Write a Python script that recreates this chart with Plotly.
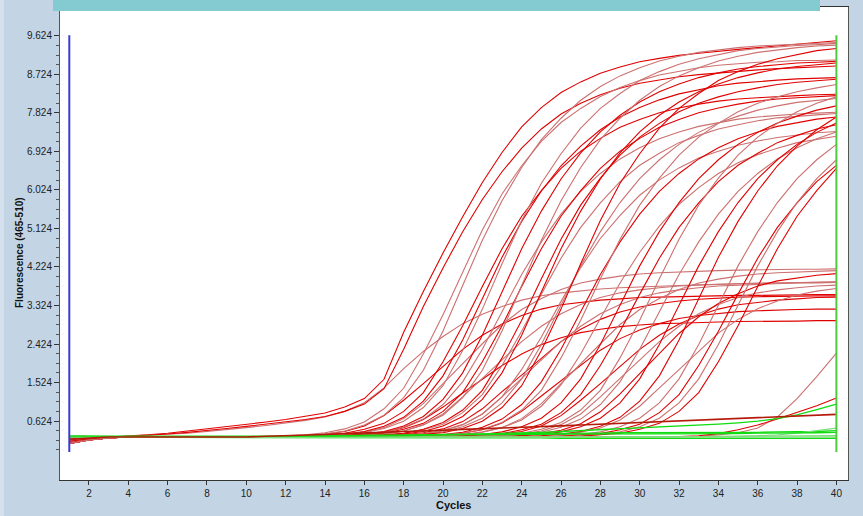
import plotly.graph_objects as go

# ---------------- data ----------------
cycles = list(range(1, 41))

y_tick_values = [0.624, 1.524, 2.424, 3.324, 4.224, 5.124, 6.024, 6.924, 7.824, 8.724, 9.624]
y_tick_labels = ["0.624", "1.524", "2.424", "3.324", "4.224", "5.124", "6.024", "6.924", "7.824", "8.724", "9.624"]
x_tick_values = [2, 4, 6, 8, 10, 12, 14, 16, 18, 20, 22, 24, 26, 28, 30, 32, 34, 36, 38, 40]
x_tick_labels = ["2", "4", "6", "8", "10", "12", "14", "16", "18", "20", "22", "24", "26", "28", "30", "32", "34", "36", "38", "40"]

# cycle markers (start / end of analysis window) and their fluorescence span
marker_cycles = [1, 40]
marker_span = [-0.1, 9.64]

# high-plateau red curves
h01 = [0.12,0.20,0.25,0.27,0.30,0.34,0.39,0.44,0.50,0.55, 0.60,0.66,0.73,0.81,0.95,1.15,1.60,2.70,3.65,4.55,
       5.40,6.20,6.90,7.50,7.95,8.30,8.55,8.75,8.90,9.02, 9.10,9.17,9.22,9.27,9.31,9.35,9.39,9.43,9.47,9.51]
h02 = [0.18,0.22,0.25,0.27,0.29,0.32,0.36,0.40,0.45,0.50, 0.55,0.60,0.66,0.73,0.85,1.02,1.38,2.30,3.30,4.20,
       5.05,5.80,6.45,7.00,7.45,7.80,8.05,8.25,8.40,8.52, 8.60,8.67,8.72,8.76,8.80,8.83,8.86,8.88,8.90,8.92]
h03 = [0.15,0.21,0.24,0.25,0.25,0.25,0.25,0.25,0.25,0.25, 0.25,0.28,0.30,0.35,0.44,0.60,0.91,1.39,2.19,3.11,
       4.12,5.09,5.93,6.59,7.16,7.60,7.93,8.21,8.42,8.58, 8.71,8.80,8.88,8.94,8.97,9.01,9.02,9.05,9.05,9.06]
h04 = [0.27,0.26,0.25,0.25,0.25,0.25,0.25,0.25,0.25,0.25, 0.25,0.25,0.29,0.32,0.39,0.53,0.76,1.17,1.81,2.73,
       3.79,4.85,5.77,6.55,7.20,7.70,8.12,8.44,8.69,8.88, 9.04,9.15,9.24,9.30,9.35,9.39,9.41,9.43,9.45,9.47]
h05 = [0.10,0.18,0.23,0.25,0.25,0.25,0.25,0.25,0.25,0.25, 0.25,0.25,0.27,0.30,0.34,0.43,0.57,0.85,1.29,2.01,
       2.85,3.77,4.65,5.41,6.01,6.53,6.93,7.23,7.49,7.67, 7.83,7.94,8.03,8.10,8.15,8.18,8.21,8.23,8.25,8.26]
h06 = [0.22,0.24,0.25,0.25,0.25,0.25,0.25,0.25,0.25,0.25, 0.25,0.25,0.25,0.28,0.32,0.38,0.50,0.71,1.09,1.68,
       2.52,3.48,4.45,5.29,6.00,6.59,7.05,7.43,7.73,7.95, 8.13,8.27,8.37,8.46,8.52,8.56,8.59,8.62,8.63,8.65]
h07 = [0.27,0.26,0.25,0.25,0.25,0.25,0.25,0.25,0.25,0.25, 0.25,0.25,0.25,0.28,0.31,0.35,0.45,0.62,0.94,1.45,
       2.27,3.24,4.30,5.31,6.18,6.87,7.47,7.93,8.28,8.58, 8.79,8.96,9.09,9.19,9.28,9.33,9.37,9.40,9.42,9.45]
h08 = [0.15,0.21,0.24,0.25,0.25,0.25,0.25,0.25,0.25,0.25, 0.25,0.25,0.25,0.25,0.28,0.31,0.36,0.48,0.67,1.01,
       1.54,2.30,3.18,4.05,4.81,5.46,5.99,6.41,6.75,7.01, 7.22,7.38,7.51,7.60,7.68,7.73,7.77,7.80,7.82,7.84]
h09 = [0.10,0.18,0.23,0.25,0.25,0.25,0.25,0.25,0.25,0.25, 0.25,0.25,0.25,0.25,0.29,0.32,0.38,0.51,0.73,1.13,
       1.75,2.63,3.64,4.65,5.53,6.28,6.89,7.38,7.77,8.08, 8.32,8.50,8.65,8.76,8.85,8.91,8.95,8.99,9.01,9.03]
h10 = [0.22,0.24,0.25,0.25,0.25,0.25,0.25,0.25,0.25,0.25, 0.25,0.25,0.25,0.25,0.27,0.30,0.34,0.43,0.57,0.85,
       1.29,2.01,2.85,3.77,4.65,5.41,6.01,6.53,6.93,7.23, 7.49,7.67,7.83,7.94,8.03,8.10,8.15,8.18,8.21,8.23]
h11 = [0.27,0.26,0.25,0.25,0.25,0.25,0.25,0.25,0.25,0.25, 0.25,0.25,0.25,0.25,0.25,0.29,0.32,0.39,0.53,0.76,
       1.17,1.81,2.73,3.79,4.85,5.77,6.55,7.20,7.70,8.12, 8.44,8.69,8.88,9.04,9.15,9.24,9.30,9.35,9.39,9.41]
h12 = [0.15,0.21,0.24,0.25,0.25,0.25,0.25,0.25,0.25,0.25, 0.25,0.25,0.25,0.25,0.25,0.27,0.30,0.33,0.42,0.55,
       0.82,1.24,1.92,2.72,3.59,4.43,5.15,5.72,6.22,6.60, 6.88,7.13,7.30,7.45,7.55,7.64,7.71,7.75,7.78,7.81]
h13 = [0.10,0.18,0.23,0.25,0.25,0.25,0.25,0.25,0.25,0.25, 0.25,0.25,0.25,0.25,0.25,0.28,0.30,0.34,0.43,0.59,
       0.88,1.34,2.10,2.98,3.95,4.87,5.67,6.30,6.84,7.26, 7.58,7.85,8.05,8.20,8.32,8.41,8.49,8.54,8.57,8.61]
h14 = [0.22,0.24,0.25,0.25,0.25,0.25,0.25,0.25,0.25,0.25, 0.25,0.25,0.25,0.25,0.25,0.25,0.29,0.32,0.38,0.51,
       0.73,1.13,1.75,2.63,3.64,4.65,5.53,6.28,6.89,7.38, 7.77,8.08,8.32,8.50,8.65,8.76,8.85,8.91,8.95,8.99]
h15 = [0.27,0.26,0.25,0.25,0.25,0.25,0.25,0.25,0.25,0.25, 0.25,0.25,0.25,0.25,0.25,0.25,0.27,0.29,0.33,0.41,
       0.54,0.79,1.19,1.83,2.59,3.42,4.21,4.89,5.43,5.90, 6.26,6.54,6.77,6.93,7.07,7.17,7.25,7.31,7.36,7.39]
h16 = [0.15,0.21,0.24,0.25,0.25,0.25,0.25,0.25,0.25,0.25, 0.25,0.25,0.25,0.25,0.25,0.25,0.25,0.28,0.31,0.37,
       0.49,0.69,1.05,1.61,2.41,3.33,4.25,5.05,5.73,6.29, 6.73,7.09,7.37,7.59,7.75,7.89,7.99,8.07,8.12,8.16]
h17 = [0.10,0.18,0.23,0.25,0.25,0.25,0.25,0.25,0.25,0.25, 0.25,0.25,0.25,0.25,0.25,0.25,0.25,0.28,0.31,0.35,
       0.45,0.62,0.94,1.45,2.27,3.24,4.30,5.31,6.18,6.87, 7.47,7.93,8.28,8.58,8.79,8.96,9.09,9.19,9.28,9.33]
h18 = [0.22,0.24,0.25,0.25,0.25,0.25,0.25,0.25,0.25,0.25, 0.25,0.25,0.25,0.25,0.25,0.25,0.25,0.25,0.28,0.31,
       0.36,0.48,0.67,1.01,1.54,2.30,3.18,4.05,4.81,5.46, 5.99,6.41,6.75,7.01,7.22,7.38,7.51,7.60,7.68,7.73]
h19 = [0.27,0.26,0.25,0.25,0.25,0.25,0.25,0.25,0.25,0.25, 0.25,0.25,0.25,0.25,0.25,0.25,0.25,0.25,0.28,0.30,
       0.34,0.43,0.59,0.88,1.34,2.10,2.98,3.95,4.87,5.67, 6.30,6.84,7.26,7.58,7.85,8.05,8.20,8.32,8.41,8.49]
h20 = [0.15,0.21,0.24,0.25,0.25,0.25,0.25,0.25,0.25,0.25, 0.25,0.25,0.25,0.25,0.25,0.25,0.25,0.25,0.25,0.28,
       0.31,0.36,0.47,0.65,0.97,1.47,2.19,3.02,3.85,4.57, 5.18,5.69,6.08,6.41,6.66,6.85,7.00,7.13,7.21,7.28]
h21 = [0.10,0.18,0.23,0.25,0.25,0.25,0.25,0.25,0.25,0.25, 0.25,0.25,0.25,0.25,0.25,0.25,0.25,0.25,0.25,0.25,
       0.28,0.31,0.37,0.49,0.69,1.05,1.61,2.41,3.33,4.25, 5.05,5.73,6.29,6.73,7.09,7.37,7.59,7.75,7.89,7.99]
h22 = [0.22,0.24,0.25,0.25,0.25,0.25,0.25,0.25,0.25,0.25, 0.25,0.25,0.25,0.25,0.25,0.25,0.25,0.25,0.25,0.25,
       0.27,0.30,0.33,0.42,0.55,0.82,1.24,1.92,2.72,3.59, 4.43,5.15,5.72,6.22,6.60,6.88,7.13,7.30,7.45,7.55]
h23 = [0.27,0.26,0.25,0.25,0.25,0.25,0.25,0.25,0.25,0.25, 0.25,0.25,0.25,0.25,0.25,0.25,0.25,0.25,0.25,0.25,
       0.25,0.28,0.30,0.34,0.43,0.59,0.88,1.34,2.10,2.98, 3.95,4.87,5.67,6.30,6.84,7.26,7.58,7.85,8.05,8.20]
h24 = [0.15,0.21,0.24,0.25,0.25,0.25,0.25,0.25,0.25,0.25, 0.25,0.25,0.25,0.25,0.25,0.25,0.25,0.25,0.25,0.25,
       0.25,0.25,0.28,0.31,0.36,0.48,0.67,1.01,1.54,2.30, 3.18,4.05,4.81,5.46,5.99,6.41,6.75,7.01,7.22,7.38]
h25 = [0.10,0.18,0.23,0.25,0.25,0.25,0.25,0.25,0.25,0.25, 0.25,0.25,0.25,0.25,0.25,0.25,0.25,0.25,0.25,0.25,
       0.25,0.25,0.25,0.28,0.31,0.37,0.49,0.69,1.05,1.61, 2.41,3.33,4.25,5.05,5.73,6.29,6.73,7.09,7.37,7.59]
# late risers
l01 = [0.22,0.24,0.25,0.25,0.25,0.25,0.25,0.25,0.25,0.25, 0.25,0.25,0.25,0.25,0.25,0.25,0.25,0.25,0.25,0.25,
       0.25,0.25,0.25,0.25,0.28,0.32,0.38,0.50,0.71,1.09, 1.68,2.52,3.48,4.45,5.29,6.00,6.59,7.05,7.43,7.73]
l02 = [0.27,0.26,0.25,0.25,0.25,0.25,0.25,0.25,0.25,0.25, 0.25,0.25,0.25,0.25,0.25,0.25,0.25,0.25,0.25,0.25,
       0.25,0.25,0.25,0.25,0.25,0.28,0.31,0.37,0.49,0.69, 1.05,1.61,2.41,3.33,4.25,5.05,5.73,6.29,6.73,7.09]
l03 = [0.15,0.21,0.24,0.25,0.25,0.25,0.25,0.25,0.25,0.25, 0.25,0.25,0.25,0.25,0.25,0.25,0.25,0.25,0.25,0.25,
       0.25,0.25,0.25,0.25,0.25,0.27,0.30,0.33,0.42,0.55, 0.82,1.24,1.92,2.72,3.59,4.43,5.15,5.72,6.22,6.60]
l04 = [0.10,0.18,0.23,0.25,0.25,0.25,0.25,0.25,0.25,0.25, 0.25,0.25,0.25,0.25,0.25,0.25,0.25,0.25,0.25,0.25,
       0.25,0.25,0.25,0.25,0.25,0.25,0.28,0.31,0.37,0.49, 0.69,1.05,1.61,2.41,3.33,4.25,5.05,5.73,6.29,6.73]
l05 = [0.22,0.24,0.25,0.25,0.25,0.25,0.25,0.25,0.25,0.25, 0.25,0.25,0.25,0.25,0.25,0.25,0.25,0.25,0.25,0.25,
       0.25,0.25,0.25,0.25,0.25,0.25,0.27,0.30,0.34,0.43, 0.57,0.85,1.29,2.01,2.85,3.77,4.65,5.41,6.01,6.53]

# low-plateau red curves
lo01 = [0.14,0.21,0.25,0.27,0.29,0.31,0.34,0.38,0.42,0.47, 0.52,0.58,0.64,0.72,0.85,1.05,1.40,1.85,2.25,2.60,
        2.90,3.12,3.30,3.45,3.55,3.62,3.67,3.71,3.74,3.76, 3.78,3.80,3.81,3.82,3.83,3.84,3.85,3.86,3.87,3.88]
lo02 = [0.27,0.26,0.25,0.25,0.25,0.25,0.25,0.25,0.25,0.25, 0.25,0.25,0.28,0.32,0.38,0.51,0.75,1.11,1.50,1.90,
        2.30,2.63,2.89,3.09,3.24,3.34,3.40,3.45,3.48,3.51, 3.52,3.53,3.55,3.55,3.56,3.56,3.57,3.57,3.58,3.58]
lo03 = [0.15,0.21,0.24,0.25,0.25,0.25,0.25,0.25,0.25,0.25, 0.25,0.25,0.25,0.28,0.30,0.37,0.47,0.68,1.03,1.50,
        1.97,2.43,2.88,3.23,3.49,3.70,3.85,3.94,4.01,4.06, 4.09,4.11,4.13,4.14,4.15,4.16,4.16,4.17,4.17,4.18]
lo04 = [0.22,0.24,0.25,0.25,0.25,0.25,0.25,0.25,0.25,0.25, 0.25,0.25,0.25,0.25,0.28,0.30,0.36,0.47,0.66,0.95,
        1.28,1.60,1.92,2.19,2.41,2.57,2.69,2.77,2.83,2.87, 2.90,2.91,2.93,2.94,2.95,2.95,2.96,2.96,2.97,2.97]
lo05 = [0.10,0.18,0.23,0.25,0.25,0.25,0.25,0.25,0.25,0.25, 0.25,0.25,0.25,0.25,0.25,0.29,0.32,0.39,0.54,0.79,
        1.19,1.62,2.05,2.48,2.84,3.13,3.35,3.51,3.62,3.69, 3.74,3.78,3.80,3.82,3.83,3.85,3.85,3.86,3.86,3.87]
lo06 = [0.27,0.26,0.25,0.25,0.25,0.25,0.25,0.25,0.25,0.25, 0.25,0.25,0.25,0.25,0.25,0.25,0.27,0.30,0.35,0.44,
        0.61,0.91,1.31,1.70,2.10,2.48,2.77,3.00,3.17,3.29, 3.37,3.43,3.47,3.50,3.52,3.53,3.54,3.54,3.55,3.55]
lo07 = [0.15,0.21,0.24,0.25,0.25,0.25,0.25,0.25,0.25,0.25, 0.25,0.25,0.25,0.25,0.25,0.25,0.25,0.29,0.32,0.39,
        0.54,0.79,1.19,1.62,2.05,2.48,2.84,3.13,3.35,3.51, 3.62,3.69,3.74,3.78,3.80,3.82,3.83,3.85,3.85,3.86]
lo08 = [0.22,0.24,0.25,0.25,0.25,0.25,0.25,0.25,0.25,0.25, 0.25,0.25,0.25,0.25,0.25,0.25,0.25,0.25,0.27,0.29,
        0.34,0.42,0.58,0.85,1.21,1.57,1.93,2.28,2.55,2.75, 2.90,3.02,3.09,3.14,3.18,3.20,3.22,3.23,3.24,3.24]
lo09 = [0.10,0.18,0.23,0.25,0.25,0.25,0.25,0.25,0.25,0.25, 0.25,0.25,0.25,0.25,0.25,0.25,0.25,0.25,0.25,0.28,
        0.30,0.37,0.47,0.68,1.03,1.50,1.97,2.43,2.88,3.23, 3.49,3.70,3.85,3.94,4.01,4.06,4.09,4.11,4.13,4.14]
lo10 = [0.27,0.26,0.25,0.25,0.25,0.25,0.25,0.25,0.25,0.25, 0.25,0.25,0.25,0.25,0.25,0.25,0.25,0.25,0.25,0.25,
        0.25,0.28,0.32,0.38,0.51,0.75,1.11,1.50,1.90,2.30, 2.63,2.89,3.09,3.24,3.34,3.40,3.45,3.48,3.51,3.52]
lo11 = [0.15,0.21,0.24,0.25,0.25,0.25,0.25,0.25,0.25,0.25, 0.25,0.25,0.25,0.25,0.25,0.25,0.25,0.25,0.25,0.25,
        0.25,0.25,0.29,0.32,0.39,0.54,0.79,1.19,1.62,2.05, 2.48,2.84,3.13,3.35,3.51,3.62,3.69,3.74,3.78,3.80]
lo12 = [0.22,0.24,0.25,0.25,0.25,0.25,0.25,0.25,0.25,0.25, 0.25,0.25,0.25,0.25,0.25,0.25,0.25,0.25,0.25,0.25,
        0.25,0.25,0.25,0.29,0.33,0.41,0.56,0.84,1.26,1.73, 2.20,2.67,3.06,3.37,3.60,3.78,3.90,3.97,4.03,4.07]
lo13 = [0.10,0.18,0.23,0.25,0.25,0.25,0.25,0.25,0.25,0.25, 0.25,0.25,0.25,0.25,0.25,0.25,0.25,0.25,0.25,0.25,
        0.25,0.25,0.25,0.25,0.28,0.30,0.36,0.46,0.65,0.97, 1.40,1.83,2.27,2.68,3.00,3.25,3.43,3.57,3.66,3.72]

# very late risers and the slow linear drifter
s01 = [0.22,0.24,0.25,0.25,0.25,0.25,0.25,0.25,0.25,0.25, 0.25,0.25,0.25,0.25,0.25,0.25,0.25,0.25,0.25,0.25,
       0.25,0.25,0.25,0.25,0.25,0.25,0.25,0.25,0.25,0.25, 0.25,0.26,0.27,0.30,0.35,0.46,0.72,1.15,1.66,2.21]
s02 = [0.27,0.26,0.25,0.25,0.25,0.25,0.25,0.25,0.25,0.25, 0.25,0.25,0.25,0.25,0.25,0.25,0.25,0.25,0.25,0.25,
       0.25,0.25,0.25,0.25,0.25,0.25,0.25,0.25,0.25,0.25, 0.25,0.26,0.28,0.33,0.42,0.53,0.67,0.82,0.98,1.16]
drift = [0.20,0.23,0.25,0.25,0.25,0.25,0.25,0.25,0.25,0.25, 0.27,0.28,0.30,0.31,0.33,0.34,0.36,0.38,0.39,0.41,
         0.43,0.44,0.46,0.48,0.49,0.51,0.53,0.55,0.56,0.58, 0.60,0.62,0.64,0.66,0.68,0.70,0.72,0.74,0.76,0.78]

# green (negative) curves
g01 = [0.27,0.26,0.25,0.25,0.24,0.24,0.24,0.24,0.24,0.24, 0.24,0.24,0.24,0.23,0.23,0.23,0.23,0.23,0.23,0.23,
       0.23,0.23,0.23,0.23,0.23,0.22,0.22,0.22,0.22,0.22, 0.22,0.22,0.22,0.22,0.22,0.22,0.22,0.22,0.22,0.22]
g02 = [0.28,0.27,0.26,0.25,0.25,0.25,0.25,0.25,0.25,0.25, 0.25,0.25,0.25,0.25,0.25,0.25,0.25,0.25,0.26,0.26,
       0.26,0.26,0.26,0.26,0.26,0.26,0.26,0.26,0.26,0.26, 0.26,0.26,0.26,0.26,0.26,0.27,0.27,0.27,0.27,0.28]
g03 = [0.26,0.26,0.25,0.25,0.25,0.25,0.25,0.25,0.25,0.26, 0.26,0.27,0.27,0.28,0.28,0.29,0.29,0.30,0.30,0.31,
       0.31,0.32,0.32,0.33,0.33,0.34,0.34,0.34,0.35,0.35, 0.35,0.35,0.36,0.36,0.36,0.36,0.37,0.37,0.38,0.40]
g04 = [0.25,0.25,0.25,0.24,0.24,0.24,0.24,0.24,0.24,0.24, 0.24,0.24,0.24,0.24,0.24,0.24,0.24,0.24,0.24,0.24,
       0.25,0.25,0.25,0.25,0.25,0.25,0.25,0.25,0.25,0.25, 0.25,0.25,0.25,0.25,0.25,0.25,0.25,0.25,0.25,0.25]
g05 = [0.26,0.26,0.25,0.25,0.25,0.25,0.25,0.25,0.25,0.25, 0.25,0.25,0.26,0.26,0.27,0.27,0.28,0.28,0.29,0.30,
       0.31,0.32,0.33,0.35,0.36,0.38,0.40,0.42,0.44,0.46, 0.48,0.50,0.52,0.55,0.58,0.62,0.68,0.77,0.89,1.02]
g06 = [0.26,0.25,0.25,0.25,0.24,0.24,0.24,0.24,0.24,0.24, 0.24,0.24,0.24,0.24,0.24,0.24,0.25,0.25,0.25,0.25,
       0.25,0.25,0.25,0.25,0.25,0.25,0.25,0.25,0.25,0.25, 0.25,0.25,0.26,0.26,0.27,0.28,0.30,0.34,0.40,0.46]
g07 = [0.27,0.27,0.26,0.26,0.26,0.26,0.26,0.26,0.27,0.27, 0.27,0.27,0.28,0.28,0.28,0.29,0.29,0.29,0.30,0.30,
       0.30,0.31,0.31,0.31,0.31,0.32,0.32,0.32,0.32,0.32, 0.33,0.33,0.33,0.33,0.33,0.34,0.34,0.34,0.35,0.36]

red_curves = [h01, lo01, h02, h03, lo02, h04, h05, lo03, h06, h07, lo04, h08, h09, lo05, h10, h11,
              lo06, h12, h13, lo07, h14, h15, lo08, h16, h17, lo09, h18, h19, lo10, h20, h21, lo11,
              h22, h23, lo12, h24, h25, lo13, l01, l02, l03, l04, l05, s01, s02]
green_curves = [g01, g02, g03, g04, g05, g06, g07]

# ---------------- styles ----------------
RED_COLORS = ["#e00000", "#cd7070"]
GREEN_COLORS = ["#10dc10", "#7ede7e"]
BG = "#c3d5e5"
BANNER = "#84cad1"
FONT = "Liberation Sans, Arial, sans-serif"

fig = go.Figure()

for i, ys in enumerate(red_curves):
    fig.add_trace(go.Scatter(x=cycles, y=ys, mode="lines", hoverinfo="skip",
                             line=dict(color=RED_COLORS[i % 2], width=1.1)))

for i, ys in enumerate(green_curves):
    fig.add_trace(go.Scatter(x=cycles, y=ys, mode="lines", hoverinfo="skip",
                             line=dict(color=GREEN_COLORS[i % 2], width=1.3)))

fig.add_trace(go.Scatter(x=cycles, y=drift, mode="lines", hoverinfo="skip",
                         line=dict(color="#b41a0a", width=1.6)))

# analysis window markers
fig.add_trace(go.Scatter(x=[marker_cycles[0]] * 2, y=marker_span, mode="lines", hoverinfo="skip",
                         line=dict(color="#3b3bd0", width=2)))
fig.add_trace(go.Scatter(x=[marker_cycles[1]] * 2, y=marker_span, mode="lines", hoverinfo="skip",
                         line=dict(color="#4ccc3c", width=2)))

W, H = 863, 516
ML, MR, MT, MB = 60, 15, 7, 36
pw, ph = W - ML - MR, H - MT - MB

def px_to_paper_x(px):
    return (px - ML) / pw

def py_to_paper_y(py):
    return (H - MB - py) / ph

fig.update_layout(
    width=W, height=H,
    margin=dict(l=ML, r=MR, t=MT, b=MB, pad=0),
    paper_bgcolor=BG, plot_bgcolor="white",
    showlegend=False,
    font=dict(family=FONT, size=10, color="#1a1a1a"),
    xaxis=dict(
        range=[0.527, 40.59], tickmode="array", tickvals=x_tick_values, ticktext=x_tick_labels,
        ticks="outside", ticklen=4, tickcolor="#333", tickwidth=1,
        showline=True, linecolor="#333", linewidth=1, mirror=True,
        showgrid=False, zeroline=False,
        tickfont=dict(family=FONT, size=10, color="#222"),
    ),
    yaxis=dict(
        range=[-0.754, 10.30], tickmode="array", tickvals=y_tick_values, ticktext=y_tick_labels,
        ticks="outside", ticklen=5, tickcolor="#333", tickwidth=1,
        showline=True, linecolor="#555", linewidth=1, mirror=True,
        showgrid=False, zeroline=False,
        tickfont=dict(family=FONT, size=10, color="#222"),
        minor=dict(tickmode="array",
                   tickvals=[round(0.624 + 0.225 * k, 3) for k in range(-3, 41)],
                   ticks="outside", ticklen=3, tickcolor="#555", showgrid=False),
    ),
    shapes=[
        dict(type="rect", xref="paper", yref="paper",
             x0=px_to_paper_x(53), x1=px_to_paper_x(820),
             y0=py_to_paper_y(11), y1=py_to_paper_y(-5),
             fillcolor=BANNER, line=dict(width=0), layer="above"),
        dict(type="rect", xref="paper", yref="paper",
             x0=px_to_paper_x(-2), x1=px_to_paper_x(4),
             y0=py_to_paper_y(520), y1=py_to_paper_y(-5),
             fillcolor="#d4e1ec", line=dict(width=0), layer="below"),
    ],
    annotations=[
        dict(text="<b>Fluorescence (465-510)</b>", textangle=-90,
             xref="paper", yref="paper", x=px_to_paper_x(19), y=py_to_paper_y(253),
             xanchor="center", yanchor="middle", showarrow=False,
             font=dict(family=FONT, size=10, color="#111")),
        dict(text="<b>Cycles</b>", xref="paper", yref="paper",
             x=px_to_paper_x(453), y=py_to_paper_y(505),
             xanchor="center", yanchor="middle", showarrow=False,
             font=dict(family=FONT, size=11, color="#111")),
    ],
)

fig.write_html("out.html",
               config={"displayModeBar": False},
               post_script="document.body.style.margin='0px';document.body.style.overflow='hidden';")
